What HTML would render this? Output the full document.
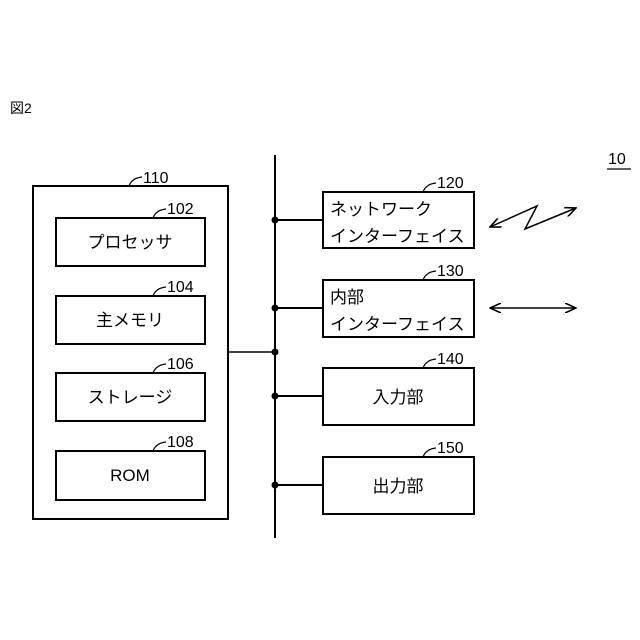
<!DOCTYPE html>
<html><head><meta charset="utf-8"><style>
body{margin:0;background:#fff}
svg{display:block}
text{font-family:"Liberation Sans","Noto Sans CJK JP",sans-serif;fill:#000}
</style></head><body>
<svg width="640" height="640" viewBox="0 0 640 640" xmlns="http://www.w3.org/2000/svg">
<defs>
<marker id="a" viewBox="0 0 12 10" refX="11" refY="5" markerWidth="12" markerHeight="10" markerUnits="userSpaceOnUse" orient="auto-start-reverse">
<path d="M0,0 L11,5 L0,10" fill="none" stroke="#000" stroke-width="1.6"/>
</marker>
</defs>
<g fill="none" stroke="#000" stroke-width="2">
<rect x="33" y="186" width="195" height="333"/>
<rect x="56" y="218" width="149" height="48"/>
<rect x="56" y="296" width="149" height="48"/>
<rect x="56" y="373" width="149" height="48"/>
<rect x="56" y="451" width="149" height="49"/>
<rect x="323" y="192" width="151" height="56"/>
<rect x="323" y="280" width="151" height="57"/>
<rect x="323" y="368" width="151" height="57"/>
<rect x="323" y="457" width="151" height="57"/>
<line x1="275" y1="155" x2="275" y2="538"/>
<line x1="228" y1="352" x2="275" y2="352" stroke-width="1.5"/>
<line x1="275" y1="220" x2="323" y2="220"/>
<line x1="275" y1="308" x2="323" y2="308"/>
<line x1="275" y1="396" x2="323" y2="396"/>
<line x1="275" y1="485" x2="323" y2="485"/>
</g>
<g fill="#000">
<circle cx="275" cy="220" r="3.5"/><circle cx="275" cy="308" r="3.5"/>
<circle cx="275" cy="352" r="3.5"/><circle cx="275" cy="396" r="3.5"/>
<circle cx="275" cy="485" r="3.5"/>
</g>
<g fill="none" stroke="#000" stroke-width="1.5">
<path d="M490,227 L537,206 L525,229 L576,208" marker-start="url(#a)" marker-end="url(#a)"/>
<line x1="490" y1="308" x2="576" y2="308" marker-start="url(#a)" marker-end="url(#a)"/>
<path d="M129,186 q3,-8 13,-9" stroke-width="1.2"/>
<path d="M153,218 q3,-8 13,-9" stroke-width="1.2"/>
<path d="M153,296 q3,-8 13,-9" stroke-width="1.2"/>
<path d="M153,373 q3,-8 13,-9" stroke-width="1.2"/>
<path d="M153,451 q3,-8 13,-9" stroke-width="1.2"/>
<path d="M423,192 q3,-8 13,-9" stroke-width="1.2"/>
<path d="M423,280 q3,-8 13,-9" stroke-width="1.2"/>
<path d="M423,368 q3,-8 13,-9" stroke-width="1.2"/>
<path d="M423,457 q3,-8 13,-9" stroke-width="1.2"/>
<line x1="607" y1="169" x2="631" y2="169" stroke-width="1.2"/>
</g>
<g font-size="16">
<text x="143" y="183">110</text>
<text x="167" y="214">102</text>
<text x="167" y="292">104</text>
<text x="167" y="369">106</text>
<text x="167" y="447">108</text>
<text x="437" y="188">120</text>
<text x="437" y="276">130</text>
<text x="437" y="364">140</text>
<text x="437" y="453">150</text>
<text x="608" y="164">10</text>
</g>
<text x="10" y="113" font-size="14">図2</text>
<g font-size="17" text-anchor="middle">
<text x="130" y="248">プロセッサ</text>
<text x="130" y="326">主メモリ</text>
<text x="130" y="403">ストレージ</text>
<text x="130" y="481">ROM</text>
<text x="398" y="403">入力部</text>
<text x="398" y="492">出力部</text>
</g>
<g font-size="17">
<text x="330" y="215">ネットワーク</text>
<text x="330" y="242">インターフェイス</text>
<text x="330" y="303">内部</text>
<text x="330" y="330">インターフェイス</text>
</g>
</svg>
</body></html>
